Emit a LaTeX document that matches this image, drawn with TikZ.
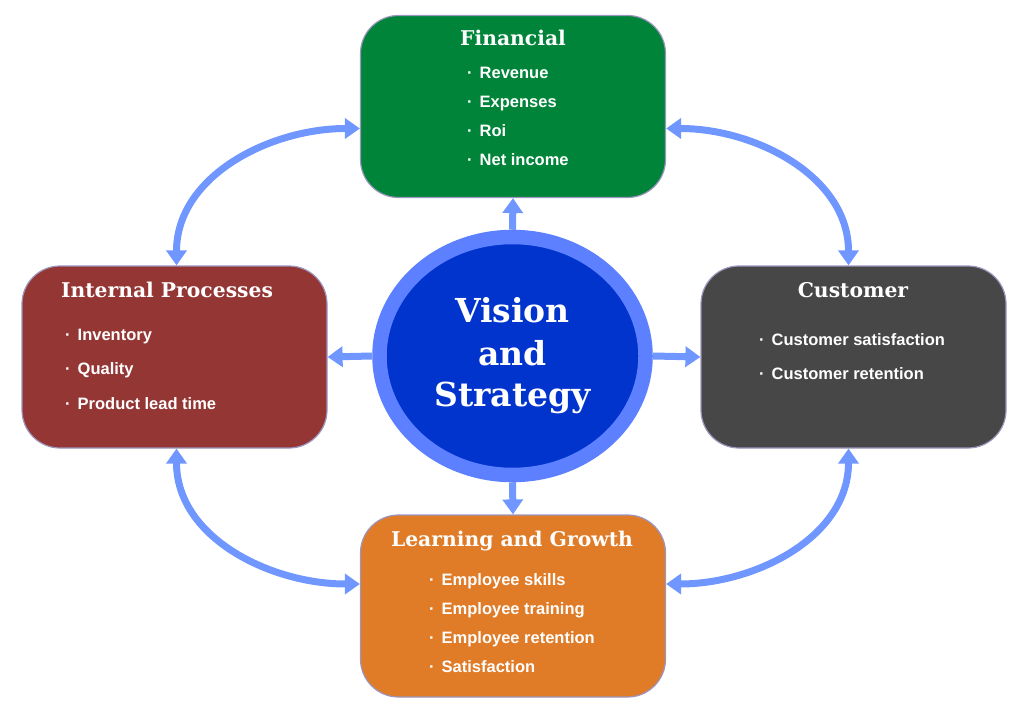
\documentclass[tikz,border=0pt]{standalone}
\usepackage{fontspec}
\setmainfont{Liberation Sans}
\newfontfamily\headfont{DejaVu Serif}
\usetikzlibrary{arrows.meta,shapes.geometric}
\definecolor{finGreen}{HTML}{00843A}
\definecolor{procRed}{HTML}{943634}
\definecolor{custGray}{HTML}{474747}
\definecolor{learnOrange}{HTML}{E07B27}
\definecolor{ringBlue}{HTML}{5C80FF}
\definecolor{coreBlue}{HTML}{0034CC}
\definecolor{arrowBlue}{HTML}{7096FF}
\definecolor{cardEdge}{HTML}{9C95BE}
\tikzset{
  card/.style={rectangle, rounded corners=38pt, fill=#1, draw=cardEdge, line width=1.2pt,
    minimum width=305pt, minimum height=182pt, inner sep=0pt},
  cardTitle/.style={text=white, font=\headfont\bfseries\fontsize{20.3}{24}\selectfont, inner sep=0pt},
  item/.style={text=white, font=\bfseries\fontsize{16.5}{19}\selectfont, anchor=base west, inner sep=0pt},
  visionDisc/.style={ellipse, fill=coreBlue, draw=ringBlue, line width=14.5pt,
    minimum width=266pt, minimum height=238pt, inner sep=0pt, align=center,
    text=white, font=\headfont\bfseries\fontsize{33}{41.5}\selectfont},
  link/.style={draw=arrowBlue, line width=7pt, -{Triangle[width=20pt,length=15pt]}},
  twoWay/.style={draw=arrowBlue, line width=7pt, {Triangle[width=20pt,length=15pt]}-{Triangle[width=20pt,length=15pt]}},
}
\newcommand{\dotItem}[1]{·\hspace{7pt}#1}

\begin{document}
\begin{tikzpicture}[x=1pt,y=-1pt]
  \useasboundingbox (0,0) rectangle (1024,714);

  \node[card=finGreen]    (fin)   at (513,106.5) {};
  \node[card=procRed]     (proc)  at (174.5,357) {};
  \node[card=custGray]    (cust)  at (853.5,357) {};
  \node[card=learnOrange] (learn) at (513,606)   {};

  \node[visionDisc] (vision) at (512.5,356) {\raisebox{1pt}{Vision}\\and\\Strategy};

  \draw[link] (vision.north) -- (fin.south);
  \draw[link] (vision.west)  -- (proc.east);
  \draw[link] (vision.east)  -- (cust.west);
  \draw[link] (vision.south) -- (learn.north);

  \draw[twoWay] ([yshift=-22pt]fin.west) to[out=180,in=90] ([xshift=2pt]proc.north);
  \draw[twoWay] ([yshift=-22pt]fin.east) to[out=0,in=90] ([xshift=-5pt]cust.north);
  \draw[twoWay] ([xshift=2pt]proc.south) to[out=-90,in=180] ([yshift=22pt]learn.west);
  \draw[twoWay] ([xshift=-5pt]cust.south) to[out=-90,in=0] ([yshift=22pt]learn.east);

  \node[cardTitle] (finTitle)   at (513,38)  {Financial};
  \node[cardTitle] (procTitle)  at (167,290) {Internal Processes};
  \node[cardTitle] (custTitle)  at (853,290) {Customer};
  \node[cardTitle] (learnTitle) at (512,541) {Learning and Growth};

  \foreach \txt [count=\i] in {Revenue,Expenses,Roi,Net income}
    \node[item] (finItem\i) at (467,{79+29*(\i-1)}) {\dotItem{\txt}};
  \foreach \txt [count=\i] in {Inventory,Quality,Product lead time}
    \node[item] (procItem\i) at (65,{340+34.5*(\i-1)}) {\dotItem{\txt}};
  \foreach \txt [count=\i] in {Customer satisfaction,Customer retention}
    \node[item] (custItem\i) at (759,{345+34*(\i-1)}) {\dotItem{\txt}};
  \foreach \txt [count=\i] in {Employee skills,Employee training,Employee retention,Satisfaction}
    \node[item] (learnItem\i) at (429,{585+29*(\i-1)}) {\dotItem{\txt}};
\end{tikzpicture}
\end{document}
